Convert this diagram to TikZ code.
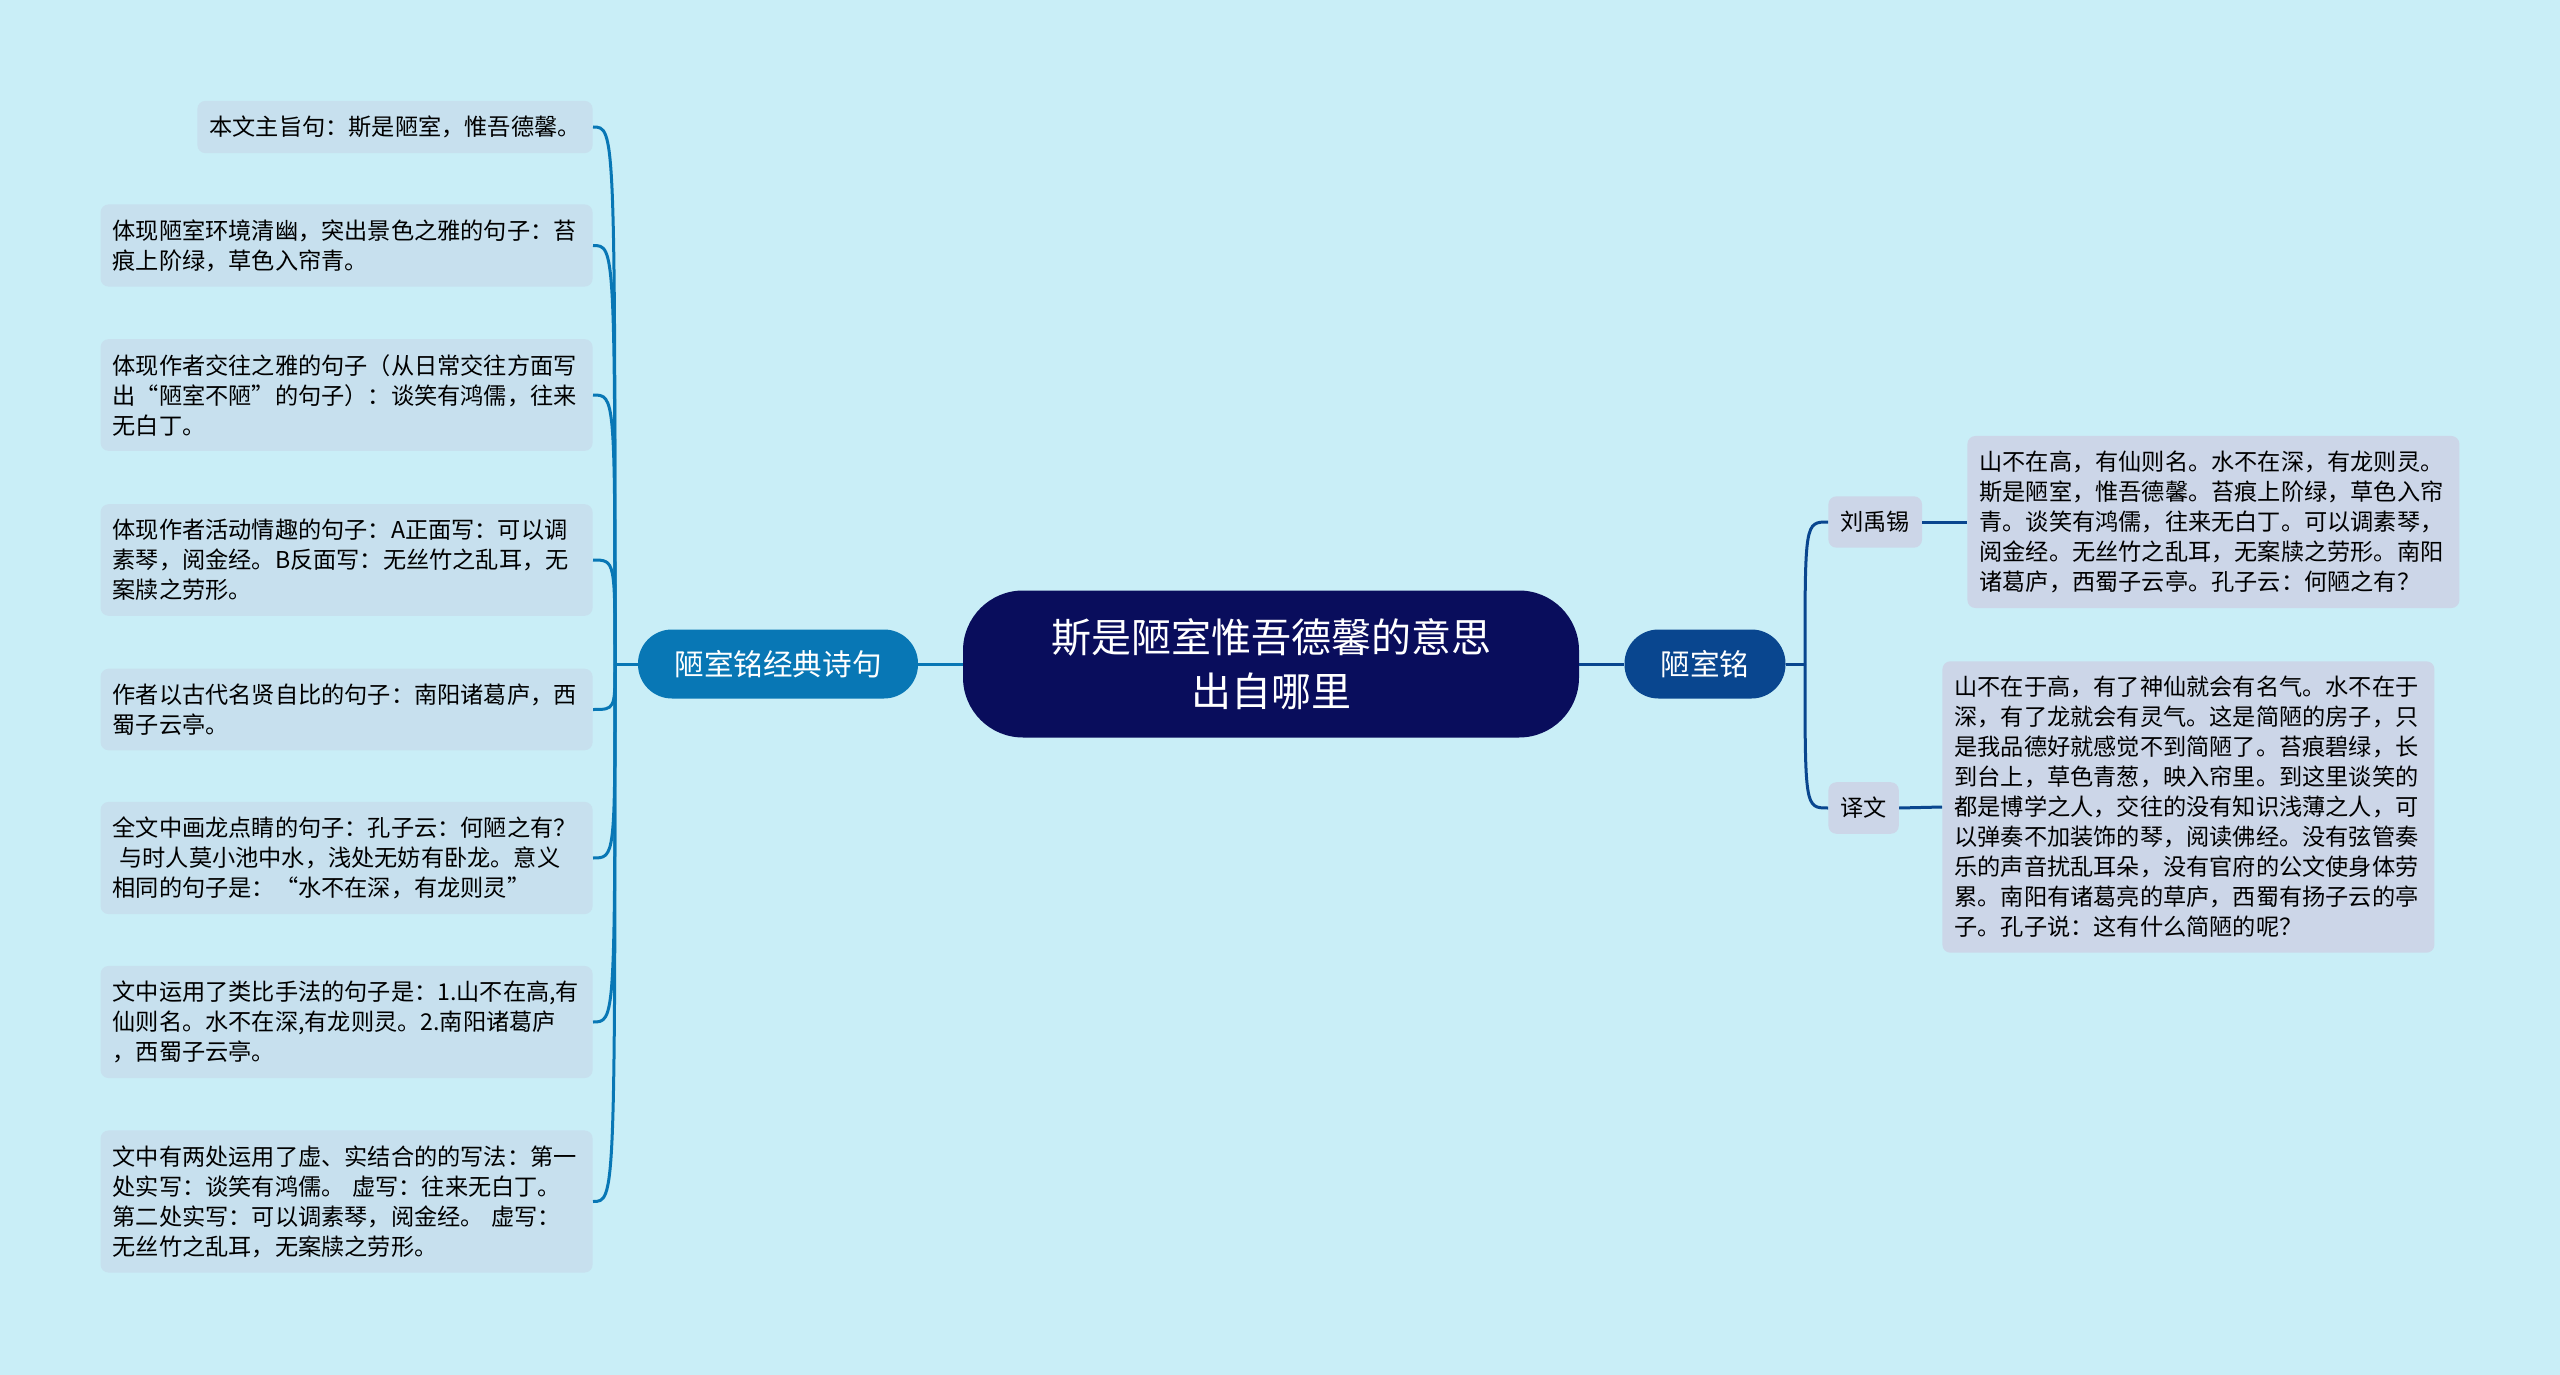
\documentclass[tikz,border=0pt]{standalone}
\usepackage{fontspec}
\setmainfont{Noto Sans CJK SC}
\usepackage{tikz}

\definecolor{bgcol}{RGB}{201,238,247}
\definecolor{rootcol}{RGB}{9,13,92}
\definecolor{lbranchcol}{RGB}{8,119,181}
\definecolor{rbranchcol}{RGB}{9,70,143}
\definecolor{lleafcol}{RGB}{199,224,238}
\definecolor{rleafcol}{RGB}{204,214,232}

\tikzset{
  root/.style={fill=rootcol,text=white,align=center,rounded corners=30pt,
    minimum width=308pt,minimum height=73.5pt,font=\fontsize{20}{27}\selectfont},
  branch/.style={text=white,rounded corners=17pt,minimum height=34.5pt,
    font=\fontsize{14.8}{18}\selectfont},
  leaf/.style={fill=lleafcol,rounded corners=4pt,align=left,inner xsep=6pt,
    inner ysep=7.5pt,font=\fontsize{11.6}{15}\selectfont},
  wideleaf/.style={leaf,text width=234pt},
  rleaf/.style={leaf,fill=rleafcol},
  lline/.style={draw=lbranchcol,line width=1.5pt},
  rline/.style={draw=rbranchcol,line width=1.5pt}
}

\begin{document}
\begin{tikzpicture}[x=0.5pt,y=-0.5pt]
  \fill[bgcol] (0,0) rectangle (2560,1375);
  \useasboundingbox (0,0) rectangle (2560,1375);

  \node[root] (root) at (1271,664) {斯是陋室惟吾德馨的意思\\出自哪里};
  \node[branch,fill=lbranchcol,minimum width=140pt] (lb) at (778,664) {陋室铭经典诗句};
  \node[branch,fill=rbranchcol,minimum width=80.5pt] (rb) at (1705,664) {陋室铭};
  \coordinate (jl) at (615,664);
  \coordinate (jr) at (1805,664);

  \node[leaf,anchor=east] (l1) at (593,127) {本文主旨句：斯是陋室，惟吾德馨。};
  \node[wideleaf,anchor=east] (l2) at (593,245.5) {体现陋室环境清幽，突出景色之雅的句子：苔\\痕上阶绿，草色入帘青。};
  \node[wideleaf,anchor=east] (l3) at (593,395) {体现作者交往之雅的句子（从日常交往方面写\\出“陋室不陋”的句子）：谈笑有鸿儒，往来\\无白丁。};
  \node[wideleaf,anchor=east] (l4) at (593,560) {体现作者活动情趣的句子：A正面写：可以调\\素琴，阅金经。B反面写：无丝竹之乱耳，无\\案牍之劳形。};
  \node[wideleaf,anchor=east] (l5) at (593,709.5) {作者以古代名贤自比的句子：南阳诸葛庐，西\\蜀子云亭。};
  \node[wideleaf,anchor=east] (l6) at (593,858) {全文中画龙点睛的句子：孔子云：何陋之有？\\\hspace{0.3em}与时人莫小池中水，浅处无妨有卧龙。意义\\相同的句子是：“水不在深，有龙则灵”};
  \node[wideleaf,anchor=east] (l7) at (593,1022) {文中运用了类比手法的句子是：1.山不在高,有\\仙则名。水不在深,有龙则灵。2.南阳诸葛庐\\，西蜀子云亭。};
  \node[wideleaf,anchor=east] (l8) at (593,1201.5) {文中有两处运用了虚、实结合的的写法：第一\\处实写：谈笑有鸿儒。 虚写：往来无白丁。\\第二处实写：可以调素琴，阅金经。 虚写：\\无丝竹之乱耳，无案牍之劳形。};

  \node[rleaf,anchor=west] (r1) at (1828,522) {刘禹锡};
  \node[rleaf,anchor=west] (r2) at (1828,808) {译文};
  \node[rleaf,text width=234pt,anchor=west] (r1t) at (1967,522) {山不在高，有仙则名。水不在深，有龙则灵。\\斯是陋室，惟吾德馨。苔痕上阶绿，草色入帘\\青。谈笑有鸿儒，往来无白丁。可以调素琴，\\阅金经。无丝竹之乱耳，无案牍之劳形。南阳\\诸葛庐，西蜀子云亭。孔子云：何陋之有？};
  \node[rleaf,text width=234pt,anchor=west] (r2t) at (1942,807) {山不在于高，有了神仙就会有名气。水不在于\\深，有了龙就会有灵气。这是简陋的房子，只\\是我品德好就感觉不到简陋了。苔痕碧绿，长\\到台上，草色青葱，映入帘里。到这里谈笑的\\都是博学之人，交往的没有知识浅薄之人，可\\以弹奏不加装饰的琴，阅读佛经。没有弦管奏\\乐的声音扰乱耳朵，没有官府的公文使身体劳\\累。南阳有诸葛亮的草庐，西蜀有扬子云的亭\\子。孔子说：这有什么简陋的呢？};

  \draw[lline] (root.west) -- (lb.east);
  \draw[lline] (lb.west) -- (jl);
  \foreach \n in {l1,l2,l3,l4,l5,l6,l7,l8}
    \draw[lline] (jl) .. controls (jl |- \n.east) .. (\n.east);

  \draw[rline] (root.east) -- (rb.west);
  \draw[rline] (rb.east) -- (jr);
  \draw[rline] (jr) .. controls (jr |- r1.west) .. (r1.west);
  \draw[rline] (jr) .. controls (jr |- r2.west) .. (r2.west);
  \draw[rline] (r1.east) -- (r1t.west);
  \draw[rline] (r2.east) -- (r2t.west);
\end{tikzpicture}
\end{document}
